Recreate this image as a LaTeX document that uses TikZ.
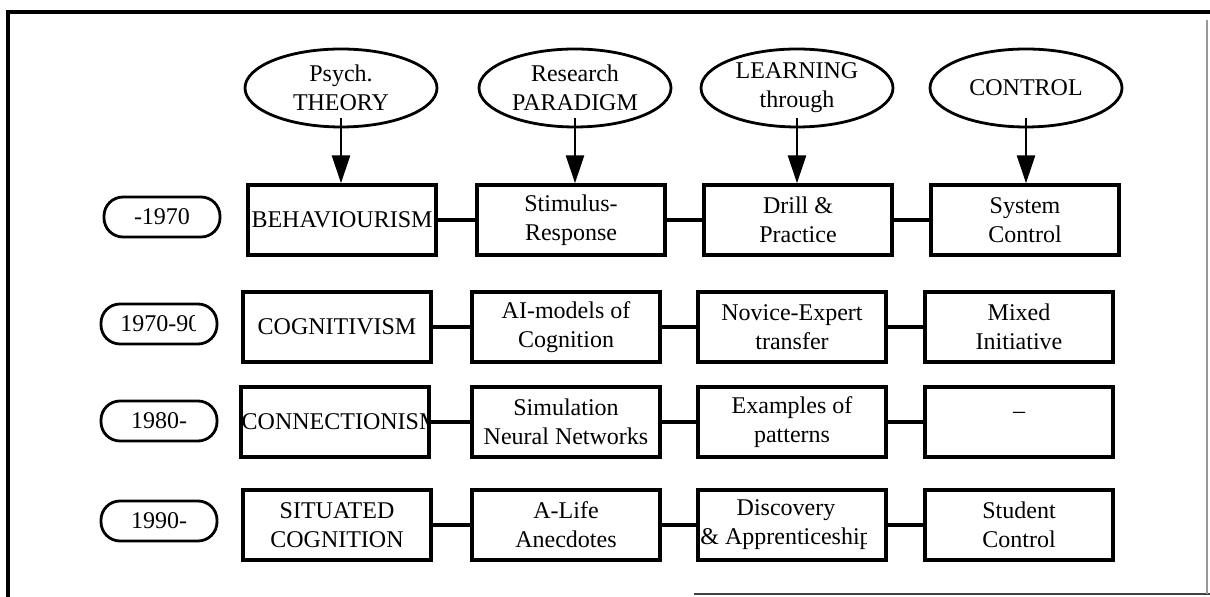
\documentclass[tikz,border=0pt]{standalone}
\usepackage{fontspec}
\setmainfont{Liberation Serif}
\usetikzlibrary{arrows.meta}
\usetikzlibrary{shapes.geometric}
\usetikzlibrary{math}

\begin{document}
\begin{tikzpicture}[x=0.5pt,y=-0.5pt,
  font=\fontsize{12}{14.5}\selectfont,
  box/.style={draw,line width=1.7pt,minimum width=94pt,minimum height=35pt,align=center,inner sep=0pt},
  era/.style={draw,line width=1.4pt,rounded corners=9.5pt,minimum width=58pt,minimum height=20pt,inner sep=0pt},
  topic/.style={draw,ellipse,line width=1.4pt,minimum width=96pt,minimum height=39pt,align=center,inner sep=0pt},
  bare/.style={draw=none,inner sep=0pt,minimum size=0pt,align=center},
  link/.style={line width=1.6pt},
  down/.style={line width=1.3pt,-{Triangle[length=14pt,width=9pt]}}]
\tikzmath{
\yt=88;
\ya=220; \yb=327; \yc=422; \yd=525;
\xe=159;
}
\useasboundingbox (0,0) rectangle (1210,597);

% page frame
\draw[line width=1.6pt] (1210,12) -- (8,12) -- (8,597);
\draw[line width=1pt,black!75] (694,594) -- (1210,594);
\draw[line width=0.6pt,black!40] (1207,20) -- (1207,594);

% headings
\node[topic] (th) at (341,\yt) {Psych.\\THEORY};
\node[topic] (pa) at (575,\yt) {Research\\PARADIGM};
\node[topic] (le) at (797,\yt) {LEARNING\\through};
\node[topic] (co) at (1026,\yt) {CONTROL};

% eras
\node[era] (e1) at (162,217) {-1970};
\node[era,path picture={
  \clip (path picture bounding box.south west) rectangle ([xshift=-10.5pt]path picture bounding box.north east);
  \node[bare,anchor=west] at ([xshift=9pt]path picture bounding box.west) {1970-90};}] (e2) at (\xe,324) {};
\node[era] (e3) at (\xe,421) {1980-};
\node[era] (e4) at (\xe,521) {1990-};

% -1970
\node[box] (b11) at (342,\ya) {BEHAVIOURISM};
\node[box] (b12) at (571,\ya) {Stimulus-\\Response};
\node[box] (b13) at (798,\ya) {Drill \&\\Practice};
\node[box] (b14) at (1025,\ya) {System\\Control};

% 1970-90
\node[box] (b21) at (337,\yb) {COGNITIVISM};
\node[box] (b22) at (566,\yb) {AI-models of\\Cognition};
\node[box] (b23) at (792,\yb) {Novice-Expert\\transfer};
\node[box] (b24) at (1019,\yb) {Mixed\\Initiative};

% 1980-
\node[box,path picture={
  \clip (path picture bounding box.south west) rectangle (path picture bounding box.north east);
  \node[bare,anchor=west] at ([xshift=-0.5pt]path picture bounding box.west) {CONNECTIONISM};}] (b31) at (335,\yc) {};
\node[box] (b32) at (566,\yc) {Simulation\\Neural Networks};
\node[box] (b33) at (792,\yc) {Examples of\\patterns};
\node[box] (b34) at (1019,\yc) {\smash{\raisebox{1.5pt}{–}}};

% 1990-
\node[box] (b41) at (337,\yd) {SITUATED\\COGNITION};
\node[box] (b42) at (566,\yd) {A-Life\\Anecdotes};
\node[box,path picture={
  \clip (path picture bounding box.south west) rectangle ([xshift=-10pt]path picture bounding box.north east);
  \node[bare] at ([xshift=-3pt]path picture bounding box.center) {Discovery\\\& Apprenticeship};}] (b43) at (792,\yd) {};
\node[box] (b44) at (1019,\yd) {Student\\Control};

% rows
\foreach \r in {1,...,4}{
  \draw[link] (b\r1) -- (b\r2) (b\r2) -- (b\r3) (b\r3) -- (b\r4);
}
% heading arrows
\foreach \t/\c in {th/1,pa/2,le/3,co/4}{
  \draw[down] (\t.south) ++(0,-10) -- (\t.south |- b1\c.north);
}
\end{tikzpicture}
\end{document}
